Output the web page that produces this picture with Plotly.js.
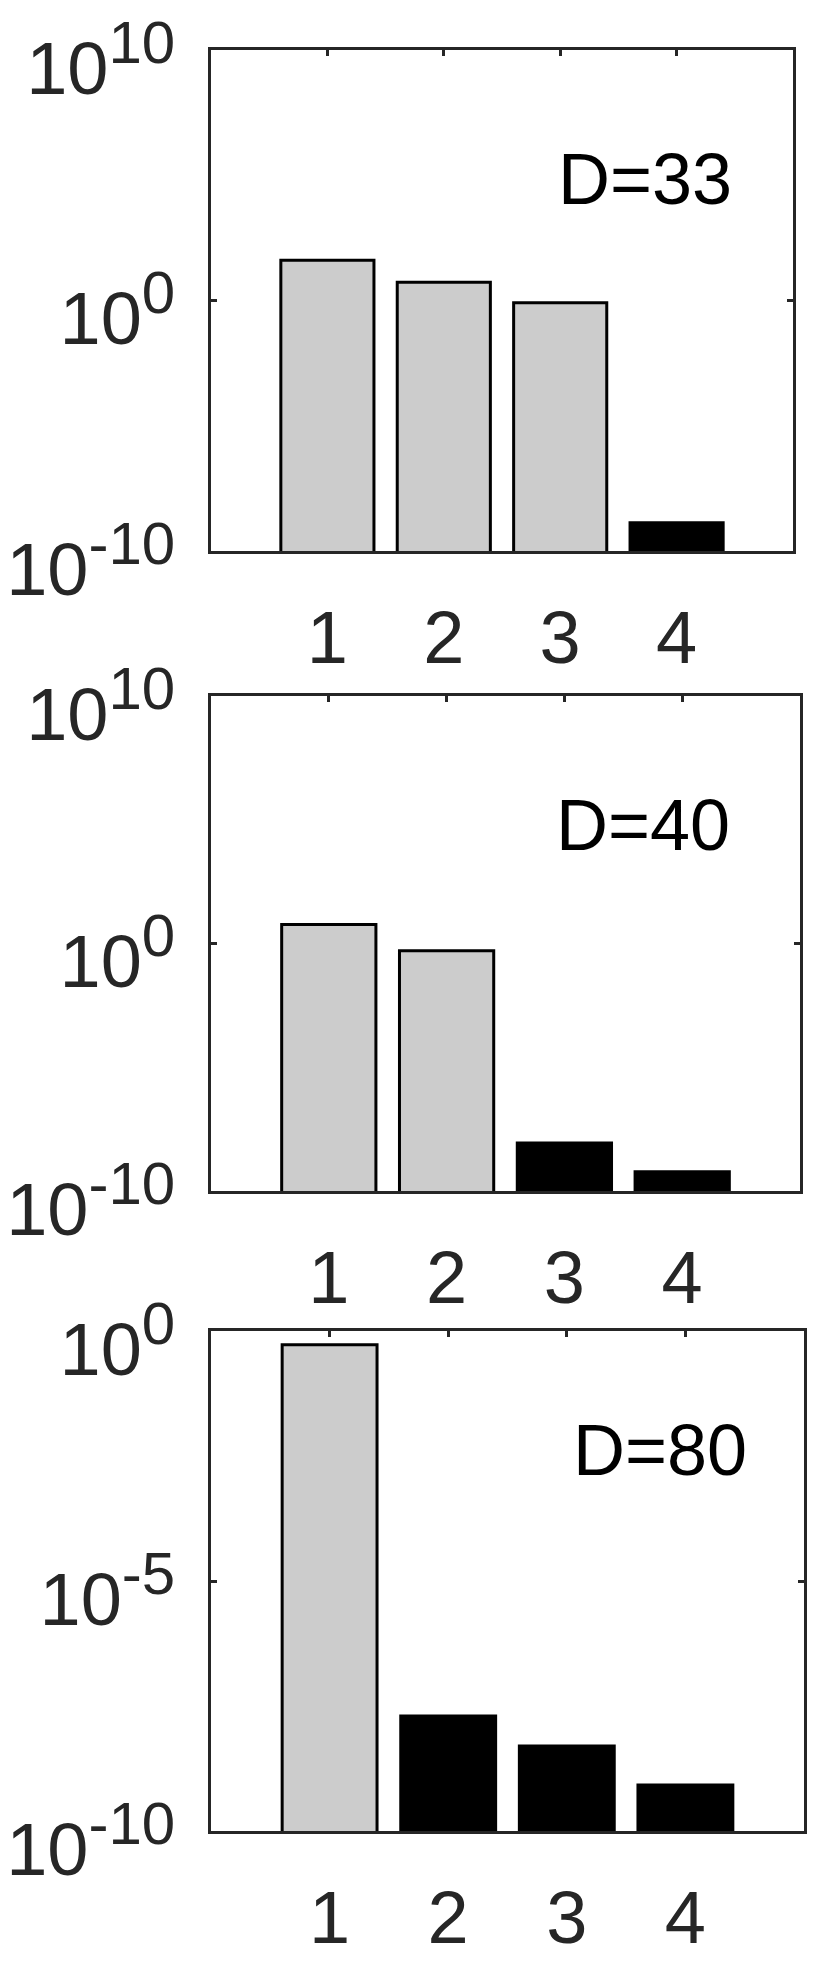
<!DOCTYPE html>
<html>
<head>
<meta charset="utf-8">
<script src="https://cdn.plot.ly/plotly-3.0.1.min.js"></script>
<style>
  html, body { margin: 0; padding: 0; background: #fff; }
  #plot { width: 827px; height: 1968px; }
</style>
</head>
<body>
<div id="plot"></div>
<script>
// method index on the x axis
const methods = [1, 2, 3, 4];
// problem sizes, one panel each
const dims = [33, 40, 80];
// error per method
const errD33 = [40, 5.3, 0.82, 1.35e-9];
const errD40 = [5.8, 0.51, 8.7e-9, 6.0e-10];
const errD80 = [0.53, 2.0e-8, 5.0e-9, 8.3e-10];
// y tick values and their exponents per panel
const ytickWide = [1e-10, 1, 1e10];
const ytickWideExp = ['-10', '0', '10'];
const ytickNarrow = [1e-10, 1e-5, 1];
const ytickNarrowExp = ['-10', '-5', '0'];

const FONT = '"Liberation Sans", Arial, Helvetica, sans-serif';
const AXIS_COLOR = '#262626';
const W = 827, H = 1968;

// pixel boxes of the three axes [left, right, top, bottom]
const boxes = [
    [211, 793, 50, 551],
    [211, 800, 696, 1191],
    [211, 804, 1331, 1831]
];

function powLabel(e) {
    // MATLAB style 10^e, with a larger superscript than plotly's default
    return '10<sup><span style="font-size:60px">' + e + '</span></sup>';
}

function barColors(vals) {
    // converged runs (tiny error) drawn black, the others light grey
    return vals.map(v => v < 1e-6 ? '#000000' : '#cccccc');
}

function xAxis(box, anchor) {
    return {
        domain: [box[0] / W, box[1] / W],
        anchor: anchor,
        range: [0, 5],
        tickvals: methods,
        ticktext: methods.map(String),
        ticks: 'inside',
        ticklen: 6,
        tickwidth: 3,
        tickcolor: AXIS_COLOR,
        showline: true,
        linewidth: 3,
        linecolor: AXIS_COLOR,
        mirror: 'ticks',
        layer: 'below traces',
        showgrid: false,
        zeroline: false,
        ticklabelstandoff: 20,
        tickfont: { family: FONT, size: 74, color: AXIS_COLOR },
        fixedrange: true
    };
}

function yAxis(box, anchor, range, vals, exps) {
    return {
        domain: [1 - box[3] / H, 1 - box[2] / H],
        anchor: anchor,
        type: 'log',
        range: range,
        tickvals: vals,
        ticktext: exps.map(powLabel),
        ticks: 'inside',
        ticklen: 6,
        tickwidth: 3,
        tickcolor: AXIS_COLOR,
        showline: true,
        linewidth: 3,
        linecolor: AXIS_COLOR,
        mirror: 'ticks',
        layer: 'below traces',
        showgrid: false,
        zeroline: false,
        ticklabelstandoff: 18,
        ticklabelshift: 18,
        ticklabeloverflow: 'allow',
        tickfont: { family: FONT, size: 74, color: AXIS_COLOR },
        fixedrange: true
    };
}

function barTrace(vals, xa, ya) {
    return {
        type: 'bar',
        x: methods,
        y: vals,
        width: 0.8,
        xaxis: xa,
        yaxis: ya,
        marker: {
            color: barColors(vals),
            line: { color: '#000000', width: 3 }
        },
        showlegend: false,
        hoverinfo: 'skip'
    };
}

let data = [
    barTrace(errD33, 'x', 'y'),
    barTrace(errD40, 'x2', 'y2'),
    barTrace(errD80, 'x3', 'y3')
];

let layout = {
    width: W,
    height: H,
    margin: { l: 0, r: 0, t: 0, b: 0 },
    paper_bgcolor: '#ffffff',
    plot_bgcolor: '#ffffff',
    bargap: 0,
    xaxis: xAxis(boxes[0], 'y'),
    yaxis: yAxis(boxes[0], 'x', [-10, 10], ytickWide, ytickWideExp),
    xaxis2: xAxis(boxes[1], 'y2'),
    yaxis2: yAxis(boxes[1], 'x2', [-10, 10], ytickWide, ytickWideExp),
    xaxis3: xAxis(boxes[2], 'y3'),
    yaxis3: yAxis(boxes[2], 'x3', [-10, 0], ytickNarrow, ytickNarrowExp),
    annotations: [
        { x: 3.73, y: 4.85, xref: 'x', yref: 'y' },
        { x: 3.67, y: 4.79, xref: 'x2', yref: 'y2' },
        { x: 3.79, y: -2.38, xref: 'x3', yref: 'y3' }
    ].map((a, i) => Object.assign(a, {
        text: 'D=' + dims[i],
        showarrow: false,
        xanchor: 'center',
        yanchor: 'middle',
        font: { family: FONT, size: 72, color: '#000000' }
    }))
};

Plotly.newPlot(document.getElementById('plot'), data, layout, { staticPlot: true });
</script>
</body>
</html>
